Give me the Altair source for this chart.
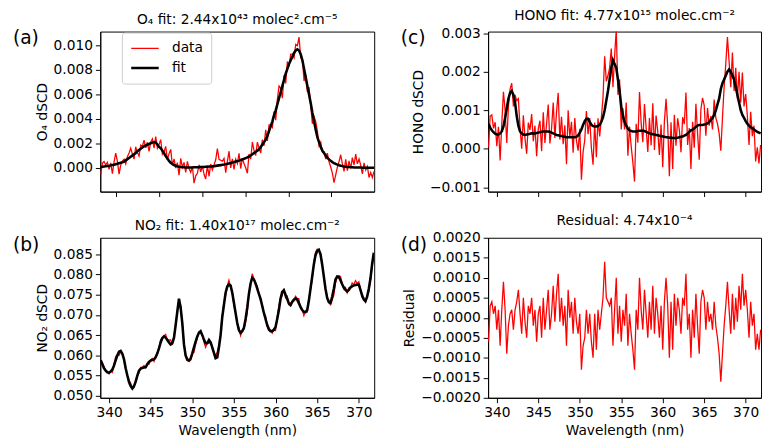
import altair as alt
import numpy as np
import pandas as pd

FONT = "DejaVu Sans"

# ---------------- data ----------------
n_points = 165
wl_start_a, wl_end_a = 338.2, 369.95      # panel (a) wavelength span (nm)
wl_start, wl_step = 339.0, 0.2            # panels (b)-(d) wavelength grid (nm)

residual = [
    -0.0006, 0.0003, 0.0004, 0.0001, 0.0003, -0.0003, 0.0002, -0.0007, 0.0002, 0.0009,
    0.0002, -0.0009, -0.0002, 0.0001, 0.0002, -0.0003, 0.0002, 0.0004, 0.0007, 0.0001,
    -0.0004, 0.0005, -0.0001, -0.0005, 0.0003, 0.0001, 0.0005, -0.0002, 0.0002, -0.0006,
    0.0001, 0.0003, -0.0005, 0.0005, -0.0003, 0.0002, 0.0007, -0.0003, 0.0001, 0.0008,
    -0.0001, 0.0006, 0.0011, -0.0001, 0.0005, -0.0002, 0.0003, -0.0007, 0.0007, 0.0000,
    0.0004, -0.0004, 0.0005, -0.0001, -0.0004, 0.0001, -0.0013, -0.0007, -0.0005, 0.0002,
    -0.0004, 0.0001, -0.0006, -0.0010, 0.0001, -0.0008, 0.0002, -0.0003, 0.0001, 0.0005,
    0.0014, 0.0005, 0.0004, 0.0003, 0.0005, -0.0007, 0.0002, 0.0010, -0.0004, 0.0003,
    -0.0006, 0.0002, -0.0002, 0.0006, -0.0007, 0.0001, -0.0004, -0.0008, -0.0013, 0.0002,
    -0.0003, 0.0010, 0.0002, -0.0003, 0.0007, 0.0001, -0.0005, 0.0004, -0.0003, 0.0008,
    -0.0004, 0.0005, 0.0001, -0.0005, 0.0003, -0.0008, 0.0004, 0.0010, 0.0003, -0.0010,
    0.0004, -0.0008, 0.0006, -0.0002, 0.0005, 0.0002, -0.0004, 0.0005, 0.0003, 0.0011,
    -0.0003, 0.0001, -0.0010, 0.0002, -0.0005, 0.0006, -0.0002, -0.0009, 0.0004, 0.0007,
    0.0005, -0.0003, 0.0004, -0.0001, 0.0001, -0.0003, 0.0004, -0.0002, -0.0005, -0.0009,
    -0.0016, -0.0009, -0.0002, 0.0003, 0.0009, 0.0002, -0.0004, 0.0006, -0.0003, 0.0005,
    -0.0001, 0.0008, 0.0002, 0.0011, 0.0003, 0.0007, 0.0002, -0.0005, 0.0004, -0.0002,
    0.0001, -0.0008, -0.0004, -0.0008, -0.0003,
]

o4_fit = [
    0.00005, 0.00007, 0.0001, 0.00012, 0.00014, 0.00016, 0.00019, 0.00022, 0.00025, 0.00029,
    0.00033, 0.00037, 0.00041, 0.00045, 0.0005, 0.0006, 0.0007, 0.0008, 0.0009, 0.001,
    0.0011, 0.0012, 0.00135, 0.00145, 0.00155, 0.00165, 0.00175, 0.00182, 0.00188, 0.00194,
    0.002, 0.00205, 0.0021, 0.00205, 0.0019, 0.0017, 0.0016, 0.0014, 0.0012, 0.00095,
    0.00075, 0.00055, 0.0004, 0.0003, 0.00022, 0.00016, 0.00011, 0.00008, 0.00006, 0.00004,
    0.00003, 0.00002, 0.00002, 0.00002, 0.00002, 0.00002, 0.00003, 0.00003, 0.00004, 0.00004,
    0.00005, 0.00005, 0.00006, 0.00007, 0.00008, 0.00009, 0.0001, 0.00012, 0.00013, 0.00015,
    0.00017, 0.00019, 0.00021, 0.00024, 0.00026, 0.00029, 0.00032, 0.00035, 0.00038, 0.00042,
    0.00046, 0.0005, 0.00054, 0.00058, 0.00063, 0.00068, 0.00073, 0.00079, 0.00085, 0.00092,
    0.001, 0.0011, 0.0012, 0.0013, 0.0014, 0.0015, 0.0017, 0.0019, 0.0021, 0.0023,
    0.0026, 0.003, 0.0034, 0.0038, 0.0043, 0.0047, 0.0052, 0.0057, 0.0062, 0.0067,
    0.0072, 0.0077, 0.0081, 0.0085, 0.0088, 0.0091, 0.0094, 0.0096, 0.0097, 0.0096,
    0.0093, 0.0088, 0.0081, 0.0074, 0.0067, 0.006, 0.0053, 0.0045, 0.0038, 0.0031,
    0.0025, 0.0021, 0.0017, 0.0014, 0.0012, 0.001, 0.0008, 0.00068, 0.00056, 0.00046,
    0.00038, 0.00031, 0.00025, 0.0002, 0.00016, 0.00013, 0.0001, 0.00008, 0.00006, 0.00005,
    0.00004, 0.00003, 0.00002, 0.00002, 0.00001, 0.00001, 0.00001, 0.0, 0.0, 0.0,
    0.0, 0.0, 0.0, 0.0, 0.0,
]

no2_fit = [
    0.0588, 0.0578, 0.0568, 0.0562, 0.0558, 0.0557, 0.0560, 0.0565, 0.0575, 0.0588,
    0.0600, 0.0609, 0.0611, 0.0604, 0.0590, 0.0568, 0.0550, 0.0534, 0.0524, 0.0518,
    0.0524, 0.0535, 0.0550, 0.0562, 0.0567, 0.0569, 0.0570, 0.0571, 0.0578, 0.0584,
    0.0587, 0.0589, 0.0590, 0.0595, 0.0605, 0.0617, 0.0632, 0.0643, 0.0647, 0.0644,
    0.0638, 0.0632, 0.0627, 0.0630, 0.0643, 0.0675, 0.0708, 0.0740, 0.0718, 0.0680,
    0.0627, 0.0600, 0.0589, 0.0587, 0.0592, 0.0605, 0.0620, 0.0634, 0.0647, 0.0656,
    0.0660, 0.0650, 0.0639, 0.0630, 0.0630, 0.0638, 0.0632, 0.0620, 0.0606, 0.0593,
    0.0595, 0.0620, 0.0650, 0.0695, 0.0725, 0.0755, 0.0770, 0.0776, 0.0773, 0.0755,
    0.0730, 0.0705, 0.0680, 0.0662, 0.0656, 0.0660, 0.0668, 0.0690, 0.0718, 0.0752,
    0.0778, 0.0792, 0.0788, 0.0778, 0.0765, 0.0752, 0.0740, 0.0722, 0.0705, 0.0690,
    0.0675, 0.0664, 0.0660, 0.0660, 0.0663, 0.0670, 0.0690, 0.0712, 0.0740, 0.0757,
    0.0761, 0.0750, 0.0740, 0.0728, 0.0724, 0.0732, 0.0738, 0.0741, 0.0738, 0.0729,
    0.0720, 0.0712, 0.0708, 0.0707, 0.0712, 0.0735, 0.0765, 0.0795, 0.0825, 0.0848,
    0.0858, 0.0861, 0.0850, 0.0825, 0.0795, 0.0765, 0.0742, 0.0732, 0.0730, 0.0745,
    0.0765, 0.0788, 0.0795, 0.0794, 0.0786, 0.0776, 0.0768, 0.0762, 0.0758, 0.0762,
    0.0768, 0.0771, 0.0773, 0.0774, 0.0775, 0.0775, 0.0762, 0.0748, 0.0738, 0.0734,
    0.0745, 0.0765, 0.0790, 0.0826, 0.0854,
]

hono_fit = [
    0.00064, 0.00055, 0.00048, 0.00043, 0.00039, 0.00037, 0.00037, 0.0004, 0.00045, 0.00058,
    0.0008, 0.00105, 0.0013, 0.00145, 0.0015, 0.0014, 0.0012, 0.00085, 0.0006, 0.00045,
    0.0004, 0.00037, 0.00036, 0.00037, 0.00038, 0.00039, 0.0004, 0.0004, 0.0004, 0.00041,
    0.00042, 0.00043, 0.00044, 0.00045, 0.00045, 0.00045, 0.00045, 0.00044, 0.00042, 0.0004,
    0.00038, 0.00036, 0.00035, 0.00034, 0.00033, 0.00032, 0.00031, 0.0003, 0.0003, 0.0003,
    0.0003, 0.0003, 0.0003, 0.00031, 0.00035, 0.00042, 0.0005, 0.00062, 0.00072, 0.00078,
    0.00078, 0.0007, 0.00062, 0.00059, 0.00058, 0.00058, 0.00059, 0.00062, 0.0007, 0.00082,
    0.001, 0.00125, 0.0015, 0.0018, 0.0021, 0.0023, 0.0022, 0.0021, 0.0018, 0.0015,
    0.0011, 0.00085, 0.0007, 0.0006, 0.00052, 0.00048, 0.00046, 0.00045, 0.00045, 0.00045,
    0.00046, 0.00047, 0.00047, 0.00047, 0.00046, 0.00044, 0.00042, 0.0004, 0.00039, 0.00038,
    0.00037, 0.00036, 0.00035, 0.00034, 0.00033, 0.00032, 0.00031, 0.0003, 0.0003, 0.00029,
    0.00029, 0.00028, 0.00028, 0.00028, 0.00029, 0.0003, 0.00031, 0.00032, 0.00034, 0.00036,
    0.0004, 0.00044, 0.00048, 0.0005, 0.00053, 0.00057, 0.0006, 0.00062, 0.00062, 0.00062,
    0.00063, 0.00064, 0.00066, 0.0007, 0.00075, 0.0008, 0.00088, 0.001, 0.00115, 0.0013,
    0.00155, 0.0017, 0.0018, 0.0019, 0.002, 0.00206, 0.002, 0.0019, 0.0018, 0.0016,
    0.0014, 0.0012, 0.001, 0.00088, 0.0008, 0.00072, 0.00065, 0.0006, 0.00056, 0.00053,
    0.0005, 0.00047, 0.00044, 0.00042, 0.0004,
]

panel_letters = ["(a)", "(b)", "(c)", "(d)"]
panel_titles = [
    "O₄ fit: 2.44x10⁴³ molec².cm⁻⁵",
    "NO₂ fit: 1.40x10¹⁷ molec.cm⁻²",
    "HONO fit: 4.77x10¹⁵ molec.cm⁻²",
    "Residual: 4.74x10⁻⁴",
]
y_titles = ["O₄ dSCD", "NO₂ dSCD", "HONO dSCD", "Residual"]
series_names = ["data", "fit"]

# ---------------- tables ----------------
wl_a = np.linspace(wl_start_a, wl_end_a, n_points)
wl = wl_start + wl_step * np.arange(n_points)
res = np.array(residual)
# measured dSCD = fitted dSCD + fit residual (DOAS retrieval)
o4_data = np.array(o4_fit) + res
no2_data = np.array(no2_fit) + res
hono_data = np.array(hono_fit) + res


def long_df(w, data, fit):
    return pd.DataFrame({
        "wl": np.concatenate([w, w]),
        "val": np.concatenate([data, np.array(fit)]),
        "series": [series_names[0]] * len(w) + [series_names[1]] * len(w),
    })


df_a = long_df(wl_a, o4_data, o4_fit)
df_b = long_df(wl, no2_data, no2_fit)
df_c = long_df(wl, hono_data, hono_fit)
df_d = pd.DataFrame({"wl": wl, "val": res})

legend_a = alt.Legend(
    title=None, orient="none", legendX=22, legendY=1,
    symbolType="stroke", symbolSize=784, clipHeight=16,
    labelFontSize=14, labelFont=FONT, labelColor="black",
    labelOffset=12, rowPadding=4, padding=8,
    strokeColor="#cccccc", fillColor="white", cornerRadius=3,
)


def panel(df, idx, xdom, xticks, ydom, yticks, yfmt, show_x, width, legend=None, two=True):
    x = alt.X("wl:Q", scale=alt.Scale(domain=xdom, nice=False, zero=False),
              axis=alt.Axis(values=xticks, labels=show_x, labelFlush=False,
                            title="Wavelength (nm)" if show_x else None))
    y = alt.Y("val:Q", scale=alt.Scale(domain=ydom, nice=False, zero=False),
              axis=alt.Axis(values=yticks, format=yfmt, title=y_titles[idx], labelFlush=False))
    base = alt.Chart(df)
    if two:
        line = base.mark_line(clip=True).encode(
            x=x, y=y,
            color=alt.Color("series:O", scale=alt.Scale(domain=series_names, range=["#ff0000", "#000000"]),
                            legend=legend),
            strokeWidth=alt.StrokeWidth("series:O", scale=alt.Scale(domain=series_names, range=[1.3, 2.6]),
                                        legend=legend),
        )
    else:
        line = base.mark_line(clip=True, color="#ff0000", strokeWidth=1.3).encode(x=x, y=y)
    lab = alt.Chart(pd.DataFrame({"t": [panel_letters[idx]]})).mark_text(
        align="left", baseline="middle", fontSize=19, font=FONT, color="black"
    ).encode(text="t:N", x=alt.value(-89), y=alt.value(7))
    return alt.layer(line, lab).properties(
        width=width, height=163,
        title=alt.TitleParams(text=panel_titles[idx], fontSize=14, fontWeight="normal",
                              font=FONT, color="black", offset=3, anchor="middle"),
    )


xticks_a = [340, 345, 350, 355, 360, 365]
xticks = [340, 345, 350, 355, 360, 365, 370]
dom_a = [338.15, 369.97]
dom = [338.95, 371.85]

pa = panel(df_a, 0, dom_a, xticks_a, [-0.00196, 0.01115],
           [0.0, 0.002, 0.004, 0.006, 0.008, 0.010], ".3f", False, 279, legend=legend_a)
pb = panel(df_b, 1, dom, xticks, [0.0495, 0.0891],
           [0.050, 0.055, 0.060, 0.065, 0.070, 0.075, 0.080, 0.085], ".3f", True, 279)
pc = panel(df_c, 2, dom, xticks, [-0.00111, 0.00304],
           [-0.001, 0.0, 0.001, 0.002, 0.003], ".3f", False, 278)
pd_ = panel(df_d, 3, dom, xticks, [-0.002, 0.002],
            [-0.002, -0.0015, -0.001, -0.0005, 0.0, 0.0005, 0.001, 0.0015, 0.002], ".4f", True, 278,
            two=False)

chart = alt.concat(
    pa, pc, pb, pd_, columns=2, spacing={"row": 47, "column": 116}, bounds="flush"
).properties(
    padding={"left": 4, "top": -3, "right": 1, "bottom": 0}
).configure_view(
    stroke="black", strokeWidth=1
).configure_axis(
    labelFont=FONT, titleFont=FONT, labelFontSize=14, titleFontSize=14,
    titleFontWeight="normal", labelColor="black", titleColor="black",
    tickColor="black", domainColor="black", tickSize=5, tickWidth=1,
    domainWidth=1, labelPadding=3, grid=False,
)

chart.save("out.html", embed_options={"renderer": "svg", "actions": False})
